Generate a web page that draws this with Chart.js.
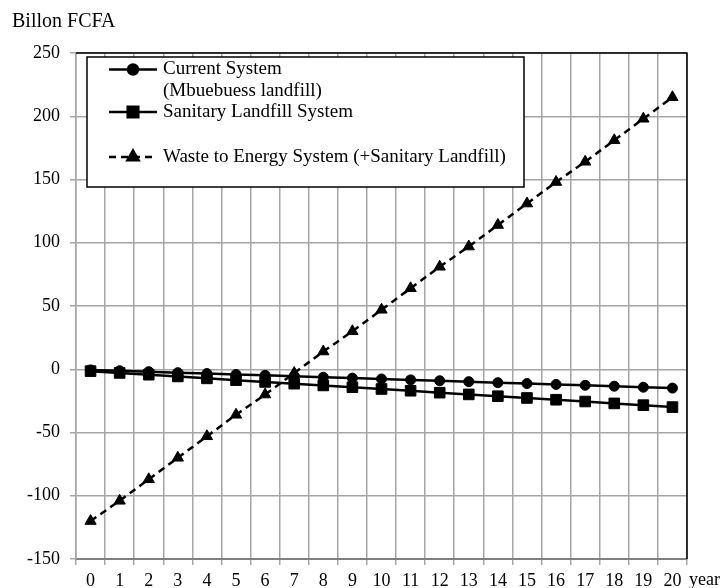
<!DOCTYPE html>
<html>
<head>
<meta charset="utf-8">
<script src="https://cdn.jsdelivr.net/npm/chart.js@4.4.1/dist/chart.umd.min.js"></script>
<style>
  html, body { margin: 0; padding: 0; background: #fff; }
  #wrap { position: relative; width: 727px; height: 588px; }
</style>
</head>
<body>
<div id="wrap"><canvas id="c" width="727" height="588"></canvas></div>
<script>
const years = ['0','1','2','3','4','5','6','7','8','9','10','11','12','13','14','15','16','17','18','19','20'];
const currentSystem = [-0.5, -1.2, -1.9, -2.7, -3.4, -4.1, -4.8, -5.5, -6.3, -7.0, -7.7, -8.4, -9.1, -9.8, -10.6, -11.3, -12.0, -12.7, -13.4, -14.2, -14.9];
const sanitaryLandfill = [-1.5, -2.9, -4.3, -5.7, -7.2, -8.6, -10.0, -11.4, -12.8, -14.2, -15.6, -17.0, -18.5, -19.9, -21.3, -22.7, -24.1, -25.5, -27.0, -28.4, -29.9];
const wasteToEnergy = [-120, -104, -87, -70, -53, -36, -20, -3, 14, 30, 47, 64, 81, 97, 114, 131, 148, 164, 181, 198, 215];
const yTicks = [-150, -100, -50, 0, 50, 100, 150, 200, 250];
const legendLabels = [['Current System', '(Mbuebuess landfill)'], ['Sanitary Landfill System'], ['Waste to Energy System (+Sanitary Landfill)']];
const yTitle = 'Billon FCFA';
const xTitle = 'year';

const FONT = '"Liberation Serif", "Times New Roman", serif';

const extras = {
  id: 'extras',
  afterDatasetsDraw(chart) {
    const ctx = chart.ctx;
    const a = chart.chartArea;
    ctx.save();
    // black top and right border
    ctx.strokeStyle = '#000';
    ctx.lineWidth = 1.5;
    ctx.beginPath();
    ctx.moveTo(a.left, a.top);
    ctx.lineTo(a.right, a.top);
    ctx.lineTo(a.right, a.bottom);
    ctx.stroke();

    // legend box
    const bx = 87, by = 57, bw = 437, bh = 130;
    ctx.fillStyle = '#fff';
    ctx.fillRect(bx, by, bw, bh);
    ctx.lineWidth = 1.5;
    ctx.strokeStyle = '#000';
    ctx.strokeRect(bx, by, bw, bh);

    const rows = [
      { ds: 0, y: 69.5, lines: legendLabels[0] },
      { ds: 1, y: 112, lines: legendLabels[1] },
      { ds: 2, y: 157, lines: legendLabels[2] }
    ];
    ctx.font = '19px ' + FONT;
    ctx.textBaseline = 'middle';
    ctx.textAlign = 'left';
    rows.forEach(r => {
      const d = chart.data.datasets[r.ds];
      ctx.strokeStyle = '#000';
      ctx.lineWidth = d.borderWidth;
      ctx.setLineDash(d.borderDash || []);
      ctx.beginPath();
      ctx.moveTo(109, r.y);
      ctx.lineTo(157, r.y);
      ctx.stroke();
      ctx.setLineDash([]);
      ctx.fillStyle = '#000';
      Chart.helpers.drawPoint(ctx, { pointStyle: d.pointStyle, radius: d.pointRadius, rotation: 0, borderWidth: 1 }, 133, r.y);
      ctx.fillStyle = '#000';
      r.lines.forEach((t, i) => ctx.fillText(t, 163, r.y + i * 22));
    });

    // titles
    ctx.fillStyle = '#000';
    ctx.font = '20px ' + FONT;
    ctx.textBaseline = 'middle';
    ctx.fillText(yTitle, 12, 22);
    ctx.font = '18px ' + FONT;
    ctx.fillText(xTitle, 689, 580);
    ctx.restore();
  }
};

new Chart(document.getElementById('c'), {
  type: 'line',
  data: {
    labels: years,
    datasets: [
      { label: 'Current System (Mbuebuess landfill)', data: currentSystem, borderColor: '#000', backgroundColor: '#000',
        borderWidth: 2.5, pointStyle: 'circle', pointRadius: 5, pointBorderWidth: 1, fill: false, tension: 0 },
      { label: 'Sanitary Landfill System', data: sanitaryLandfill, borderColor: '#000', backgroundColor: '#000',
        borderWidth: 2.5, pointStyle: 'rect', pointRadius: 7.5, pointBorderWidth: 1, fill: false, tension: 0 },
      { label: 'Waste to Energy System (+Sanitary Landfill)', data: wasteToEnergy, borderColor: '#000', backgroundColor: '#000',
        borderWidth: 2.5, borderDash: [7, 5], pointStyle: 'triangle', pointRadius: 6.5, pointBorderWidth: 1, fill: false, tension: 0 }
    ]
  },
  options: {
    responsive: false,
    animation: false,
    devicePixelRatio: 1,
    layout: { padding: { left: 0, right: 40, top: 53, bottom: 0 } },
    plugins: { legend: { display: false }, tooltip: { enabled: false } },
    scales: {
      x: {
        type: 'category',
        offset: true,
        grid: { offset: true, color: '#a6a6a6', lineWidth: 1.5, tickLength: 6, drawTicks: true },
        border: { color: '#808080', width: 2 },
        ticks: { color: '#000', font: { family: FONT, size: 18 }, padding: 5, maxRotation: 0, autoSkip: false },
        afterFit(s) { s.height = 29; }
      },
      y: {
        min: -150, max: 250,
        afterBuildTicks(s) { s.ticks = yTicks.map(v => ({ value: v })); },
        grid: { color: '#a6a6a6', lineWidth: 1.5, tickLength: 6 },
        border: { color: '#a6a6a6', width: 1.5 },
        ticks: { color: '#000', font: { family: FONT, size: 18 }, padding: 10 },
        afterFit(s) { s.width = 76; }
      }
    }
  },
  plugins: [extras]
});
</script>
</body>
</html>
